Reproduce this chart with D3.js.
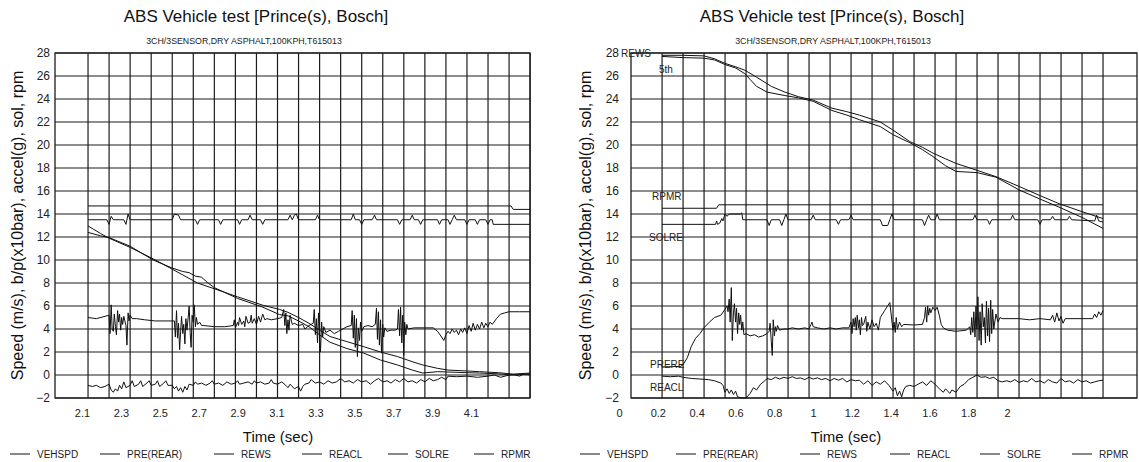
<!DOCTYPE html>
<html>
<head>
<meta charset="utf-8">
<script src="https://cdn.jsdelivr.net/npm/d3@7"></script>
<style>
  body { margin: 0; background: #fff; }
  svg { font-family: "Liberation Sans", Arial, sans-serif; }
</style>
</head>
<body>
<svg id="chart" width="1139" height="462"></svg>
<script>
// ---- chart values (time in s, value in chart units) ----
const yTicks = [-2, 0, 2, 4, 6, 8, 10, 12, 14, 16, 18, 20, 22, 24, 26, 28];
const leftTimeTicks = [2.1, 2.3, 2.5, 2.7, 2.9, 3.1, 3.3, 3.5, 3.7, 3.9, 4.1];
const rightTimeTicks = [0, 0.2, 0.4, 0.6, 0.8, 1, 1.2, 1.4, 1.6, 1.8, 2];
const legendNames = ['VEHSPD', 'PRE(REAR)', 'REWS', 'REACL', 'SOLRE', 'RPMR'];
const rightTagNames = ['REWS', '5th', 'RPMR', 'SOLRE', 'PRERE', 'REACL'];

const leftVehspd = [[2.131,12.96],[2.196,12.3],[2.239,11.9],[2.347,11.1],[2.466,10.1],[2.564,9.2],[2.694,8.0],[2.780,7.5],[2.900,6.8],[3.029,6.07],[3.116,5.7],[3.159,5.45],[3.213,5.0],[3.267,4.5],[3.321,3.9],[3.375,3.35],[3.462,2.9],[3.549,2.46],[3.635,2.0],[3.722,1.6],[3.798,1.16],[3.852,0.87],[3.928,0.58],[3.982,0.43],[4.079,0.35],[4.144,0.29],[4.241,0.2],[4.317,0.08],[4.404,0.17]];
const leftRews = [[2.131,12.4],[2.196,12.1],[2.239,11.95],[2.347,11.2],[2.466,10.0],[2.564,9.3],[2.618,9.0],[2.651,8.9],[2.683,8.6],[2.715,8.5],[2.748,8.0],[2.780,7.6],[2.900,6.66],[3.029,5.9],[3.116,5.25],[3.159,5.15],[3.213,4.7],[3.267,4.2],[3.321,3.5],[3.375,2.85],[3.462,2.3],[3.549,1.9],[3.635,1.3],[3.722,0.87],[3.798,0.43],[3.852,0.17],[3.928,0.29],[3.982,0.26],[4.079,0.2],[4.144,0.17],[4.241,0.1],[4.317,0.0],[4.404,0.1]];
const leftPre = [[2.131,5.0],[2.174,4.9],[2.218,5.1],[2.239,5.2],[2.244,3.6],[2.250,6.1],[2.255,4.0],[2.261,3.8],[2.266,5.3],[2.272,4.2],[2.277,3.5],[2.283,5.6],[2.288,4.6],[2.293,5.3],[2.299,3.9],[2.304,5.0],[2.309,4.4],[2.315,5.1],[2.326,4.3],[2.331,2.6],[2.337,5.4],[2.342,4.7],[2.347,5.2],[2.358,4.9],[2.380,4.9],[2.423,4.8],[2.477,4.7],[2.531,4.7],[2.575,4.7],[2.580,3.3],[2.586,5.6],[2.591,3.2],[2.596,4.5],[2.602,2.2],[2.607,3.8],[2.612,5.1],[2.618,3.6],[2.623,4.4],[2.629,2.7],[2.634,4.9],[2.640,3.9],[2.651,6.0],[2.656,3.7],[2.661,2.4],[2.666,5.2],[2.672,4.6],[2.677,6.1],[2.683,4.2],[2.688,5.0],[2.694,4.4],[2.705,4.6],[2.715,4.3],[2.726,4.3],[2.780,4.2],[2.834,4.2],[2.878,4.3],[2.883,4.8],[2.889,4.1],[2.900,4.6],[2.905,4.3],[2.910,5.0],[2.921,4.4],[2.932,4.7],[2.937,4.2],[2.943,5.1],[2.954,4.5],[2.964,4.6],[2.970,5.2],[2.975,4.5],[2.986,4.9],[2.997,4.4],[3.008,5.1],[3.018,4.6],[3.029,5.3],[3.040,4.8],[3.051,4.9],[3.073,4.8],[3.105,4.9],[3.127,5.0],[3.137,5.7],[3.143,4.3],[3.148,5.4],[3.153,3.6],[3.159,4.8],[3.164,3.9],[3.170,5.2],[3.181,4.4],[3.192,4.5],[3.213,4.3],[3.235,4.4],[3.246,4.0],[3.267,4.3],[3.289,4.5],[3.294,5.7],[3.300,3.5],[3.305,4.9],[3.311,2.8],[3.316,5.4],[3.321,3.6],[3.326,2.0],[3.332,4.6],[3.337,3.3],[3.343,4.2],[3.354,3.7],[3.375,3.9],[3.397,3.6],[3.419,3.8],[3.441,4.0],[3.462,4.2],[3.484,4.3],[3.489,5.6],[3.495,3.2],[3.500,5.2],[3.505,2.4],[3.511,4.9],[3.516,1.6],[3.521,4.1],[3.527,3.0],[3.532,4.6],[3.538,3.8],[3.549,4.2],[3.570,4.3],[3.592,4.2],[3.608,4.4],[3.614,5.8],[3.619,3.1],[3.624,5.5],[3.629,2.6],[3.635,4.8],[3.640,1.9],[3.646,4.4],[3.651,3.3],[3.657,4.1],[3.668,3.8],[3.689,3.9],[3.711,3.9],[3.722,4.0],[3.727,5.7],[3.733,3.4],[3.738,5.9],[3.744,2.8],[3.749,5.2],[3.754,1.7],[3.759,4.6],[3.765,3.5],[3.770,4.4],[3.776,4.0],[3.808,4.1],[3.863,4.1],[3.906,4.1],[3.928,3.8],[3.949,3.3],[3.960,3.0],[3.971,3.5],[3.982,3.8],[3.992,3.6],[4.003,4.0],[4.014,3.7],[4.025,3.9],[4.036,3.5],[4.047,4.0],[4.057,3.7],[4.068,4.1],[4.079,3.6],[4.090,4.3],[4.101,3.8],[4.111,4.5],[4.122,3.9],[4.133,4.4],[4.144,4.0],[4.155,4.6],[4.166,4.1],[4.176,4.5],[4.187,4.2],[4.198,4.6],[4.209,4.4],[4.231,4.9],[4.252,5.3],[4.274,5.4],[4.295,5.5],[4.350,5.5],[4.404,5.5]];
const leftReacl = [[2.131,-0.9],[2.153,-1.0],[2.174,-0.9],[2.196,-1.1],[2.218,-1.0],[2.239,-0.8],[2.250,-1.3],[2.261,-1.5],[2.272,-1.2],[2.283,-1.4],[2.293,-0.9],[2.304,-1.2],[2.315,-0.6],[2.326,-1.1],[2.347,-0.9],[2.358,-0.5],[2.369,-1.0],[2.391,-0.8],[2.402,-0.5],[2.412,-1.0],[2.434,-0.7],[2.445,-0.5],[2.456,-0.9],[2.477,-0.8],[2.488,-0.5],[2.499,-1.0],[2.521,-0.7],[2.531,-0.5],[2.542,-0.9],[2.564,-0.9],[2.575,-1.2],[2.586,-1.0],[2.596,-1.4],[2.607,-1.1],[2.618,-1.5],[2.629,-1.0],[2.640,-1.3],[2.651,-0.8],[2.672,-0.9],[2.683,-0.6],[2.694,-0.8],[2.715,-0.7],[2.737,-0.9],[2.759,-0.7],[2.770,-0.5],[2.780,-0.8],[2.802,-0.7],[2.824,-0.9],[2.845,-0.6],[2.867,-0.8],[2.889,-0.7],[2.900,-0.5],[2.910,-0.8],[2.932,-0.7],[2.954,-0.6],[2.975,-0.8],[2.986,-0.5],[2.997,-0.7],[3.018,-0.6],[3.040,-0.8],[3.062,-0.7],[3.073,-0.4],[3.083,-0.7],[3.105,-0.8],[3.127,-0.6],[3.148,-0.9],[3.159,-1.1],[3.170,-0.8],[3.192,-1.2],[3.213,-1.0],[3.224,-1.4],[3.235,-1.0],[3.246,-0.8],[3.267,-0.7],[3.278,-0.4],[3.300,-0.7],[3.321,-0.6],[3.343,-0.8],[3.365,-0.5],[3.386,-0.7],[3.408,-0.6],[3.430,-0.3],[3.451,-0.6],[3.473,-0.5],[3.495,-0.7],[3.516,-0.4],[3.538,-0.6],[3.561,-0.5],[3.583,-0.8],[3.604,-0.5],[3.624,-0.3],[3.646,-0.6],[3.668,-0.5],[3.689,-0.7],[3.711,-0.4],[3.733,-0.6],[3.754,-0.3],[3.776,-0.6],[3.798,-0.5],[3.820,-0.7],[3.842,-0.4],[3.863,-0.6],[3.885,-0.3],[3.906,-0.5],[3.928,-0.4],[3.949,-0.2],[3.971,-0.4],[3.982,-0.1],[4.025,-0.15],[4.079,-0.1],[4.133,-0.2],[4.187,-0.1],[4.220,0.0],[4.252,-0.2],[4.285,-0.05],[4.317,0.05],[4.350,-0.1],[4.371,0.1],[4.404,0.0]];
const leftSolre = [[2.131,13.5],[2.228,13.5],[2.239,13.1],[2.250,13.8],[2.261,13.5],[2.315,13.5],[2.326,13.1],[2.337,14.0],[2.347,13.5],[2.564,13.5],[2.575,14.0],[2.596,13.9],[2.607,13.5],[2.683,13.5],[2.694,13.1],[2.705,13.5],[2.802,13.5],[2.813,13.1],[2.824,13.5],[2.900,13.5],[2.910,13.1],[2.921,13.5],[2.954,13.5],[2.964,13.9],[2.975,13.5],[3.018,13.5],[3.029,13.1],[3.040,13.5],[3.159,13.5],[3.170,13.9],[3.181,13.5],[3.192,13.9],[3.202,14.0],[3.213,13.5],[3.300,13.5],[3.311,13.9],[3.321,13.5],[3.484,13.5],[3.495,14.0],[3.505,13.5],[3.527,13.5],[3.538,13.1],[3.549,13.5],[3.592,13.5],[3.604,13.9],[3.614,13.5],[3.722,13.5],[3.733,13.1],[3.744,13.5],[3.787,13.5],[3.798,13.9],[3.808,13.5],[3.830,13.5],[3.841,13.1],[3.852,13.5],[3.928,13.5],[3.938,13.1],[3.949,13.5],[3.982,13.5],[3.992,13.1],[4.003,13.5],[4.014,13.9],[4.025,13.5],[4.068,13.5],[4.079,13.1],[4.090,13.5],[4.122,13.5],[4.133,13.1],[4.144,13.5],[4.176,13.5],[4.187,13.1],[4.198,13.5],[4.209,13.5],[4.214,13.1],[4.404,13.1]];
const leftRpmr = [[2.131,14.7],[4.306,14.7],[4.317,14.4],[4.404,14.4]];

const rightVehspd = [[0.222,27.8],[0.330,27.8],[0.438,27.75],[0.492,27.5],[0.546,27.1],[0.601,26.8],[0.649,26.5],[0.709,25.9],[0.785,25.1],[0.855,24.6],[0.925,24.2],[1.001,23.9],[1.098,23.2],[1.174,22.9],[1.239,22.6],[1.347,22.0],[1.412,21.3],[1.499,20.3],[1.564,19.8],[1.618,19.3],[1.683,18.8],[1.737,18.4],[1.845,17.8],[1.943,17.25],[2.062,16.4],[2.170,15.6],[2.268,14.9],[2.387,14.2],[2.495,13.6]];
const rightRews = [[0.222,27.7],[0.330,27.6],[0.438,27.55],[0.492,27.4],[0.546,27.0],[0.601,26.7],[0.649,26.2],[0.676,25.7],[0.709,25.1],[0.763,24.6],[0.855,24.3],[0.925,24.1],[1.001,23.8],[1.098,23.0],[1.174,22.6],[1.239,22.2],[1.347,21.6],[1.412,20.9],[1.499,20.2],[1.564,19.6],[1.618,19.0],[1.683,18.2],[1.737,17.7],[1.845,17.6],[1.943,17.2],[2.062,16.1],[2.170,15.3],[2.268,14.6],[2.387,13.7],[2.495,12.75]];
const rightPre = [[0.222,0.7],[0.319,0.75],[0.330,0.9],[0.352,1.5],[0.373,2.5],[0.395,3.2],[0.417,3.6],[0.438,4.1],[0.460,4.5],[0.492,5.0],[0.525,5.2],[0.546,5.7],[0.557,6.0],[0.562,5.5],[0.568,6.6],[0.573,4.6],[0.579,7.6],[0.584,3.0],[0.590,5.4],[0.595,6.2],[0.601,4.6],[0.606,5.8],[0.611,3.6],[0.617,5.4],[0.622,4.4],[0.627,5.2],[0.633,3.9],[0.638,4.6],[0.644,3.5],[0.655,3.6],[0.676,3.4],[0.698,3.5],[0.720,3.3],[0.741,3.4],[0.763,3.6],[0.774,3.8],[0.779,4.5],[0.785,2.9],[0.790,1.7],[0.795,4.8],[0.801,3.4],[0.806,4.2],[0.811,3.8],[0.817,4.3],[0.828,3.9],[0.850,4.0],[0.871,4.0],[0.893,4.1],[0.925,4.0],[0.958,4.1],[0.979,4.0],[0.990,4.4],[0.995,4.6],[1.001,4.2],[1.023,4.1],[1.055,4.0],[1.088,4.1],[1.120,4.0],[1.153,4.1],[1.185,4.1],[1.196,4.6],[1.201,3.6],[1.207,4.9],[1.212,4.2],[1.218,5.0],[1.223,3.9],[1.228,5.2],[1.234,4.1],[1.239,4.8],[1.244,3.5],[1.250,5.0],[1.255,4.3],[1.261,4.4],[1.272,5.1],[1.277,3.8],[1.283,4.6],[1.293,4.0],[1.304,4.8],[1.315,4.2],[1.326,4.5],[1.337,3.9],[1.347,5.0],[1.369,5.6],[1.396,6.3],[1.412,3.9],[1.418,4.6],[1.424,3.7],[1.429,5.0],[1.435,4.0],[1.446,4.6],[1.457,4.2],[1.467,4.4],[1.521,4.35],[1.564,4.4],[1.575,5.0],[1.580,5.9],[1.586,4.6],[1.591,6.0],[1.596,5.2],[1.602,5.8],[1.607,5.4],[1.618,5.9],[1.629,5.6],[1.640,5.9],[1.651,5.2],[1.661,4.4],[1.672,4.1],[1.694,3.9],[1.737,3.8],[1.791,3.9],[1.808,4.2],[1.813,3.5],[1.818,5.0],[1.824,3.7],[1.829,5.5],[1.835,3.3],[1.840,6.0],[1.845,4.0],[1.850,6.8],[1.856,3.0],[1.861,5.5],[1.867,2.6],[1.872,6.2],[1.878,4.2],[1.883,5.0],[1.889,2.8],[1.894,6.4],[1.900,3.4],[1.905,5.8],[1.910,2.9],[1.916,6.5],[1.921,3.6],[1.926,5.7],[1.932,4.0],[1.943,5.3],[1.954,4.6],[1.964,5.0],[1.975,4.9],[2.062,4.9],[2.116,4.8],[2.170,4.9],[2.224,4.8],[2.235,5.2],[2.246,4.6],[2.257,5.4],[2.268,4.7],[2.278,5.1],[2.289,4.5],[2.300,4.9],[2.387,4.9],[2.441,4.9],[2.452,5.3],[2.462,5.0],[2.473,5.5],[2.484,5.2],[2.495,5.6]];
const rightReacl = [[0.222,-0.1],[0.265,-0.15],[0.308,-0.1],[0.330,-0.2],[0.373,-0.3],[0.417,-0.35],[0.460,-0.4],[0.492,-0.5],[0.525,-0.7],[0.536,-0.9],[0.546,-1.5],[0.557,-1.2],[0.568,-1.6],[0.579,-1.3],[0.590,-1.7],[0.601,-1.4],[0.611,-1.9],[0.633,-2.0],[0.655,-2.0],[0.676,-1.6],[0.693,-1.1],[0.709,-1.3],[0.730,-0.8],[0.752,-0.5],[0.763,-0.3],[0.785,-0.4],[0.806,-0.2],[0.828,-0.35],[0.850,-0.2],[0.871,-0.3],[0.893,-0.15],[0.914,-0.3],[0.936,-0.25],[0.958,-0.4],[0.979,-0.2],[1.001,-0.35],[1.023,-0.25],[1.044,-0.4],[1.066,-0.3],[1.088,-0.5],[1.109,-0.3],[1.131,-0.45],[1.153,-0.3],[1.174,-0.6],[1.196,-0.4],[1.218,-0.5],[1.239,-0.45],[1.261,-0.8],[1.283,-0.5],[1.304,-0.9],[1.326,-0.6],[1.347,-0.8],[1.369,-0.5],[1.391,-0.9],[1.412,-1.4],[1.424,-1.1],[1.435,-1.8],[1.446,-1.4],[1.457,-1.9],[1.467,-1.3],[1.478,-1.0],[1.499,-0.9],[1.521,-1.0],[1.542,-0.8],[1.564,-0.6],[1.586,-0.9],[1.607,-0.5],[1.629,-0.8],[1.651,-1.2],[1.672,-1.5],[1.683,-1.2],[1.705,-1.6],[1.716,-1.3],[1.737,-1.5],[1.759,-1.0],[1.780,-0.8],[1.802,-0.4],[1.824,-0.2],[1.845,0.0],[1.867,-0.2],[1.889,-0.15],[1.910,-0.3],[1.932,-0.2],[1.954,-0.5],[1.975,-0.6],[1.997,-0.5],[2.019,-0.6],[2.040,-0.4],[2.062,-0.65],[2.084,-0.5],[2.105,-0.6],[2.127,-0.3],[2.149,-0.6],[2.170,-0.5],[2.192,-0.7],[2.213,-0.4],[2.235,-0.6],[2.257,-0.7],[2.278,-0.3],[2.300,-0.6],[2.322,-0.5],[2.343,-0.7],[2.365,-0.4],[2.387,-0.6],[2.408,-0.5],[2.430,-0.7],[2.452,-0.6],[2.473,-0.5],[2.495,-0.45]];
const rightSolre = [[0.222,13.1],[0.498,13.1],[0.503,13.4],[0.508,13.1],[0.519,13.2],[0.530,13.6],[0.536,13.4],[0.546,14.0],[0.557,13.8],[0.568,14.0],[0.627,14.0],[0.633,14.1],[0.638,13.5],[0.763,13.5],[0.774,13.0],[0.785,13.5],[0.828,13.5],[0.839,13.0],[0.850,13.5],[0.860,14.0],[0.871,13.5],[0.990,13.5],[1.001,13.9],[1.012,13.5],[1.120,13.5],[1.131,13.1],[1.142,13.5],[1.185,13.5],[1.196,13.9],[1.207,13.5],[1.347,13.5],[1.358,13.0],[1.385,13.0],[1.396,13.5],[1.407,14.0],[1.418,13.5],[1.564,13.5],[1.575,13.0],[1.586,13.5],[1.596,13.9],[1.607,13.5],[1.629,13.5],[1.640,14.0],[1.651,13.5],[1.824,13.5],[1.835,13.9],[1.845,13.5],[1.900,13.5],[1.910,13.1],[1.921,13.5],[2.019,13.5],[2.029,13.9],[2.040,13.5],[2.159,13.5],[2.170,13.1],[2.181,13.5],[2.224,13.5],[2.235,13.8],[2.246,13.5],[2.311,13.5],[2.322,13.8],[2.333,13.5],[2.452,13.4],[2.462,13.9],[2.473,13.4],[2.495,13.3]];
const rightRpmr = [[0.222,14.5],[0.503,14.5],[0.514,14.8],[2.495,14.8]];

// ---- layout ----
const svg = d3.select('#chart');
const ink = '#1c1c1c';
const y = d3.scaleLinear().domain([-2, 28]).range([398, 53]);
const gridDivisions = 21; // plotter grid: equal divisions over the recorded span

const panels = [
  {
    x: d3.scaleLinear().domain([2.1, 4.1]).range([82, 471]),
    box: [55, 530], ticks: leftTimeTicks, yLabelX: 50, yTitleX: 17,
    titleX: 256, subX: 244, timeX: 278,
    legendX: [10, 100, 214, 302, 388, 474],
    series: [leftVehspd, leftPre, leftRews, leftReacl, leftSolre, leftRpmr],
    tags: []
  },
  {
    x: d3.scaleLinear().domain([0, 2]).range([619, 1007]),
    box: [631, 1137], ticks: rightTimeTicks, yLabelX: 619, yTitleX: 585,
    titleX: 832, subX: 833, timeX: 846,
    legendX: [580, 676, 800, 890, 980, 1072],
    series: [rightVehspd, rightPre, rightRews, rightReacl, rightSolre, rightRpmr],
    // tag anchor: [left px, value]
    tags: [[621, 28], [659, 26.6], [652, 15.5], [649, 12], [650, 0.9], [650, -1.1]]
  }
];

panels.forEach(p => {
  const g = svg.append('g');
  const x = p.x;
  const [bx0, bx1] = p.box;
  const span = d3.extent(p.series.flat(), d => d[0]);
  const gridX = d3.scaleLinear().domain([0, gridDivisions]).range(span.map(x));

  // grid
  g.append('g').selectAll('line').data(yTicks).join('line')
    .attr('x1', bx0).attr('x2', bx1)
    .attr('y1', d => y(d)).attr('y2', d => y(d))
    .attr('stroke', ink).attr('stroke-width', 1.2);
  g.append('g').selectAll('line').data(d3.range(gridDivisions + 1)).join('line')
    .attr('x1', d => gridX(d)).attr('x2', d => gridX(d))
    .attr('y1', y(28)).attr('y2', y(-2))
    .attr('stroke', ink).attr('stroke-width', 1.2);
  g.append('rect')
    .attr('x', bx0).attr('y', y(28))
    .attr('width', bx1 - bx0).attr('height', y(-2) - y(28))
    .attr('fill', 'none').attr('stroke', ink).attr('stroke-width', 1.3);

  // y tick labels
  const ya = g.append('g').attr('transform', `translate(${p.yLabelX},0)`)
    .call(d3.axisLeft(y).tickValues(yTicks).tickSize(0).tickPadding(0));
  ya.select('.domain').remove();
  ya.selectAll('text').attr('font-size', 12).attr('fill', '#222').attr('font-family', null);

  // x tick labels
  const xa = g.append('g').attr('transform', `translate(0,${y(-2)})`)
    .call(d3.axisBottom(x).tickValues(p.ticks).tickSize(0).tickPadding(11).tickFormat(d3.format('~g')));
  xa.select('.domain').remove();
  xa.selectAll('text').attr('font-size', 11).attr('fill', '#222').attr('font-family', null);

  // traces
  const line = d3.line().x(d => x(d[0])).y(d => y(d[1]));
  g.append('g').selectAll('path').data(p.series).join('path')
    .attr('d', line)
    .attr('fill', 'none').attr('stroke', '#111').attr('stroke-width', 1)
    .attr('stroke-linejoin', 'round');

  // trace tags (right chart only)
  g.append('g').selectAll('text').data(p.tags).join('text')
    .attr('x', d => d[0]).attr('y', d => y(d[1]))
    .attr('dy', '0.35em').attr('font-size', 10).attr('fill', '#222')
    .text((d, i) => rightTagNames[i]);

  // titles
  g.append('text').attr('x', p.titleX).attr('y', 16).attr('dy', '0.35em')
    .attr('text-anchor', 'middle').attr('font-size', 17).attr('fill', '#111')
    .text('ABS Vehicle test [Prince(s), Bosch]');
  g.append('text').attr('x', p.subX).attr('y', 41).attr('dy', '0.35em')
    .attr('text-anchor', 'middle').attr('font-size', 8.8).attr('fill', '#222')
    .text('3CH/3SENSOR,DRY ASPHALT,100KPH,T615013');
  g.append('text').attr('x', p.timeX).attr('y', 437).attr('dy', '0.35em')
    .attr('text-anchor', 'middle').attr('font-size', 15).attr('fill', '#111')
    .text('Time (sec)');
  g.append('text')
    .attr('transform', `translate(${p.yTitleX},${(y(28) + y(-2)) / 2}) rotate(-90)`)
    .attr('dy', '0.35em').attr('text-anchor', 'middle')
    .attr('font-size', 16).attr('fill', '#111')
    .text('Speed (m/s), b/p(x10bar), accel(g), sol, rpm');

  // legend
  const lg = g.append('g').selectAll('g').data(legendNames).join('g')
    .attr('transform', (d, i) => `translate(${p.legendX[i]},454)`);
  lg.append('line').attr('x1', 0).attr('x2', 20)
    .attr('stroke', '#111').attr('stroke-width', 1);
  lg.append('text').attr('x', 27).attr('dy', '0.35em')
    .attr('font-size', 10).attr('fill', '#222').text(d => d);
});
</script>
</body>
</html>
